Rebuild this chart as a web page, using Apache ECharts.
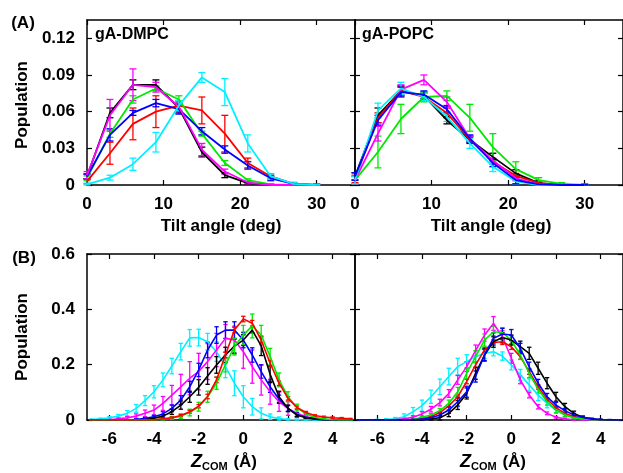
<!DOCTYPE html>
<html>
<head>
<meta charset="utf-8">
<script src="https://cdn.jsdelivr.net/npm/echarts@6/dist/echarts.min.js"></script>
<style>
html,body{margin:0;padding:0;background:#fff;}
#c{width:623px;height:473px;}
</style>
</head>
<body>
<div id="c"></div>
<script>
// ---------- DATA ----------
const tiltAngles = [0, 3, 6, 9, 12, 15, 18, 21, 24, 27, 30];
const tiltTicks = [0, 10, 20, 30];
const tiltPopTicks = [0, 0.03, 0.06, 0.09, 0.12];

// gA-DMPC tilt populations
const dmpcTiltBlack   = [0.007, 0.059, 0.082, 0.082, 0.063, 0.027, 0.008, 0.0015, 0, 0, 0];
const dmpcTiltRed     = [0.003, 0.026, 0.050, 0.060, 0.065, 0.061, 0.042, 0.018, 0.007, 0.001, 0];
const dmpcTiltGreen   = [0.0055, 0.042, 0.070, 0.079, 0.070, 0.042, 0.018, 0.004, 0.0005, 0, 0];
const dmpcTiltBlue    = [0.007, 0.041, 0.059, 0.067, 0.062, 0.044, 0.029, 0.016, 0.0055, 0.001, 0];
const dmpcTiltMagenta = [0.008, 0.057, 0.082, 0.080, 0.064, 0.029, 0.011, 0.002, 0, 0, 0];
const dmpcTiltCyan    = [0.0005, 0.006, 0.017, 0.035, 0.065, 0.088, 0.076, 0.034, 0.007, 0.001, 0];
const dmpcTiltErrBlack   = [0.002, 0.004, 0.004, 0.004, 0.004, 0.004, 0.002, 0.001, 0.0005, 0.0005, 0.0005];
const dmpcTiltErrRed     = [0.002, 0.009, 0.013, 0.013, 0.004, 0.011, 0.015, 0.004, 0.002, 0.001, 0.0005];
const dmpcTiltErrGreen   = [0.002, 0.003, 0.003, 0.002, 0.003, 0.002, 0.002, 0.001, 0.0005, 0.0005, 0.0005];
const dmpcTiltErrBlue    = [0.002, 0.005, 0.002, 0.003, 0.004, 0.003, 0.003, 0.003, 0.002, 0.001, 0.0005];
const dmpcTiltErrMagenta = [0.003, 0.013, 0.013, 0.004, 0.004, 0.005, 0.002, 0.001, 0.0005, 0.0005, 0.0005];
const dmpcTiltErrCyan    = [0.001, 0.002, 0.005, 0.008, 0.004, 0.004, 0.011, 0.007, 0.002, 0.001, 0.0005];

// gA-POPC tilt populations
const popcTiltBlack   = [0.007, 0.057, 0.077, 0.073, 0.053, 0.037, 0.023, 0.0095, 0.0015, 0, 0];
const popcTiltRed     = [0.005, 0.055, 0.077, 0.072, 0.059, 0.037, 0.019, 0.0075, 0.0015, 0, 0];
const popcTiltGreen   = [0.004, 0.027, 0.054, 0.072, 0.073, 0.055, 0.031, 0.013, 0.004, 0.001, 0];
const popcTiltBlue    = [0.007, 0.053, 0.076, 0.074, 0.062, 0.038, 0.018, 0.004, 0.0005, 0, 0];
const popcTiltMagenta = [0.004, 0.042, 0.078, 0.086, 0.068, 0.038, 0.020, 0.0055, 0.0005, 0, 0];
const popcTiltCyan    = [0.004, 0.061, 0.079, 0.072, 0.056, 0.034, 0.015, 0.003, 0, 0, 0];
const popcTiltErrBlack   = [0.003, 0.006, 0.004, 0.003, 0.003, 0.003, 0.003, 0.003, 0.002, 0.0005, 0.0005];
const popcTiltErrRed     = [0.003, 0.004, 0.004, 0.003, 0.004, 0.002, 0.002, 0.002, 0.001, 0.0005, 0.0005];
const popcTiltErrGreen   = [0.003, 0.013, 0.012, 0.004, 0.004, 0.011, 0.011, 0.006, 0.002, 0.001, 0.0005];
const popcTiltErrBlue    = [0.003, 0.004, 0.004, 0.003, 0.003, 0.003, 0.003, 0.003, 0.001, 0.0005, 0.0005];
const popcTiltErrMagenta = [0.003, 0.006, 0.004, 0.004, 0.004, 0.002, 0.002, 0.002, 0.001, 0.0005, 0.0005];
const popcTiltErrCyan    = [0.003, 0.006, 0.005, 0.003, 0.004, 0.004, 0.004, 0.002, 0.001, 0.0005, 0.0005];

// Z_COM positions (Å)
const zcom = [-6.8, -6.4, -6.0, -5.6, -5.2, -4.8, -4.4, -4.0, -3.6, -3.2, -2.8, -2.4, -2.0, -1.6, -1.2,
              -0.8, -0.4, 0.0, 0.4, 0.8, 1.2, 1.6, 2.0, 2.4, 2.8, 3.2, 3.6, 4.0, 4.4, 4.8];
const zTicks = [-6, -4, -2, 0, 2, 4];
const zPopTicks = [0, 0.2, 0.4, 0.6];

// gA-DMPC Z_COM populations
const dmpcZBlack   = [0,0,0,0,0,0,0.002,0.006,0.014,0.030,0.054,0.084,0.118,0.159,0.199,0.235,0.267,0.289,0.325,0.268,0.165,0.084,0.042,0.018,0.008,0.004,0.001,0,0,0];
const dmpcZRed     = [0,0,0,0,0,0,0,0.001,0.004,0.008,0.016,0.030,0.050,0.085,0.145,0.235,0.325,0.365,0.350,0.289,0.205,0.133,0.078,0.045,0.027,0.016,0.011,0.008,0.006,0.004];
const dmpcZGreen   = [0,0,0,0,0,0,0,0.001,0.003,0.007,0.014,0.027,0.048,0.084,0.133,0.199,0.265,0.307,0.340,0.307,0.229,0.145,0.084,0.045,0.022,0.010,0.004,0.001,0,0];
const dmpcZBlue    = [0,0,0,0,0,0.002,0.006,0.012,0.022,0.042,0.072,0.120,0.181,0.253,0.307,0.325,0.325,0.289,0.235,0.175,0.120,0.075,0.042,0.020,0.010,0.004,0.001,0,0,0];
const dmpcZMagenta = [0,0,0.001,0.004,0.008,0.014,0.024,0.036,0.060,0.090,0.120,0.151,0.175,0.211,0.253,0.295,0.289,0.247,0.193,0.145,0.102,0.066,0.042,0.024,0.012,0.006,0.002,0,0,0];
const dmpcZCyan    = [0.002,0.004,0.008,0.014,0.024,0.042,0.070,0.102,0.145,0.195,0.247,0.297,0.298,0.283,0.247,0.193,0.133,0.084,0.048,0.024,0.012,0.005,0.002,0.001,0,0,0,0,0,0];
const dmpcZErrBlack   = [0.001,0.001,0.001,0.001,0.001,0.001,0.002,0.004,0.006,0.010,0.015,0.020,0.028,0.030,0.030,0.028,0.025,0.020,0.010,0.035,0.030,0.020,0.012,0.006,0.003,0.002,0.001,0.001,0.001,0.001];
const dmpcZErrRed     = [0.001,0.001,0.001,0.001,0.001,0.001,0.001,0.001,0.002,0.003,0.004,0.005,0.006,0.008,0.010,0.010,0.010,0.010,0.010,0.010,0.010,0.008,0.006,0.005,0.004,0.003,0.003,0.003,0.003,0.002];
const dmpcZErrGreen   = [0.001,0.001,0.001,0.001,0.001,0.001,0.001,0.002,0.003,0.005,0.008,0.012,0.016,0.020,0.022,0.025,0.030,0.035,0.043,0.035,0.030,0.025,0.018,0.012,0.006,0.004,0.002,0.001,0.001,0.001];
const dmpcZErrBlue    = [0.001,0.001,0.001,0.001,0.001,0.002,0.003,0.005,0.008,0.012,0.016,0.020,0.024,0.028,0.030,0.030,0.030,0.028,0.026,0.024,0.020,0.015,0.010,0.006,0.004,0.002,0.001,0.001,0.001,0.001];
const dmpcZErrMagenta = [0.001,0.001,0.002,0.003,0.005,0.008,0.012,0.018,0.025,0.035,0.045,0.060,0.066,0.065,0.060,0.050,0.050,0.060,0.060,0.055,0.045,0.035,0.025,0.015,0.008,0.004,0.002,0.001,0.001,0.001];
const dmpcZErrCyan    = [0.002,0.003,0.004,0.006,0.010,0.014,0.018,0.022,0.025,0.028,0.030,0.030,0.030,0.030,0.035,0.040,0.045,0.040,0.030,0.020,0.010,0.006,0.003,0.002,0.001,0.001,0.001,0.001,0.001,0.001];

// gA-POPC Z_COM populations
const popcZBlack   = [0,0,0,0,0,0,0,0.001,0.004,0.008,0.024,0.054,0.096,0.169,0.235,0.283,0.298,0.289,0.265,0.241,0.187,0.133,0.084,0.048,0.024,0.010,0.004,0.001,0,0];
const popcZRed     = [0,0,0,0,0,0,0.001,0.005,0.012,0.027,0.051,0.084,0.139,0.199,0.253,0.280,0.283,0.265,0.229,0.175,0.120,0.075,0.045,0.024,0.012,0.006,0.002,0.001,0,0];
const popcZGreen   = [0,0,0,0,0,0,0.002,0.010,0.018,0.034,0.060,0.102,0.169,0.229,0.289,0.319,0.316,0.289,0.235,0.169,0.111,0.066,0.036,0.018,0.008,0.004,0.001,0,0,0];
const popcZBlue    = [0,0,0,0,0,0,0.001,0.003,0.008,0.018,0.036,0.066,0.102,0.157,0.235,0.295,0.311,0.307,0.259,0.193,0.133,0.084,0.054,0.034,0.018,0.010,0.004,0.002,0.001,0];
const popcZMagenta = [0,0,0,0,0.001,0.004,0.010,0.022,0.039,0.063,0.096,0.145,0.193,0.251,0.307,0.349,0.301,0.223,0.145,0.090,0.048,0.024,0.010,0.004,0.001,0,0,0,0,0];
const popcZCyan    = [0,0,0.001,0.002,0.004,0.012,0.030,0.052,0.084,0.120,0.157,0.193,0.211,0.229,0.241,0.247,0.231,0.199,0.163,0.127,0.090,0.060,0.036,0.020,0.010,0.004,0.001,0,0,0];
const popcZErrBlack   = [0.001,0.001,0.001,0.001,0.001,0.001,0.001,0.002,0.004,0.008,0.012,0.016,0.020,0.022,0.022,0.020,0.018,0.018,0.020,0.022,0.022,0.020,0.016,0.012,0.008,0.004,0.002,0.001,0.001,0.001];
const popcZErrRed     = [0.001,0.001,0.001,0.001,0.001,0.001,0.001,0.002,0.003,0.004,0.005,0.006,0.008,0.010,0.010,0.010,0.010,0.010,0.010,0.010,0.008,0.006,0.005,0.004,0.003,0.002,0.001,0.001,0.001,0.001];
const popcZErrGreen   = [0.001,0.001,0.001,0.001,0.001,0.001,0.002,0.003,0.005,0.008,0.012,0.016,0.020,0.022,0.022,0.020,0.018,0.016,0.016,0.016,0.014,0.012,0.010,0.006,0.004,0.002,0.001,0.001,0.001,0.001];
const popcZErrBlue    = [0.001,0.001,0.001,0.001,0.001,0.001,0.002,0.003,0.005,0.008,0.012,0.016,0.020,0.020,0.020,0.020,0.020,0.020,0.018,0.016,0.014,0.012,0.010,0.008,0.006,0.004,0.002,0.001,0.001,0.001];
const popcZErrMagenta = [0.001,0.001,0.001,0.001,0.002,0.003,0.005,0.008,0.010,0.012,0.014,0.016,0.018,0.020,0.022,0.025,0.022,0.018,0.014,0.010,0.008,0.005,0.003,0.002,0.001,0.001,0.001,0.001,0.001,0.001];
const popcZErrCyan    = [0.001,0.001,0.002,0.003,0.005,0.010,0.015,0.020,0.024,0.028,0.030,0.030,0.025,0.020,0.018,0.015,0.015,0.018,0.020,0.022,0.020,0.016,0.012,0.008,0.005,0.003,0.002,0.001,0.001,0.001];

// ---------- CHART ----------
const COL = {black:'#000000', red:'#ff0000', green:'#00e800', blue:'#0000ff', magenta:'#ff00ff', cyan:'#00f0ff'};
const FONT = '"Liberation Sans", Arial, Helvetica, sans-serif';

const grids = [
  {left: 87,  top: 20,  width: 268, height: 165},
  {left: 355, top: 20,  width: 268, height: 165},
  {left: 87,  top: 254, width: 268, height: 166},
  {left: 355, top: 254, width: 268, height: 166}
];

const xAxis = [], yAxis = [];
function addAxes(gi, xr, yr, xTicks, yTicks, showY, yFmt) {
  const line = {show: true, onZero: false, lineStyle: {color: '#000', width: 1.5}};
  xAxis.push({type: 'value', gridIndex: gi, min: xr[0], max: xr[1], position: 'bottom',
    axisLine: line, splitLine: {show: false},
    axisTick: {show: true, inside: true, length: 5, customValues: xTicks, lineStyle: {color: '#000', width: 1.2}},
    axisLabel: {show: true, customValues: xTicks, margin: 11, color: '#000', fontSize: 17, fontWeight: 'bold', fontFamily: FONT}});
  xAxis.push({type: 'value', gridIndex: gi, min: xr[0], max: xr[1], position: 'top',
    axisLine: line, splitLine: {show: false},
    axisTick: {show: true, inside: true, length: 5, customValues: xTicks, lineStyle: {color: '#000', width: 1.2}},
    axisLabel: {show: false}});
  yAxis.push({type: 'value', gridIndex: gi, min: yr[0], max: yr[1], position: 'left',
    axisLine: line, splitLine: {show: false},
    axisTick: {show: true, inside: true, length: 5, customValues: yTicks, lineStyle: {color: '#000', width: 1.2}},
    axisLabel: {show: showY, customValues: yTicks, margin: 12, color: '#000', fontSize: 17, fontWeight: 'bold', fontFamily: FONT, formatter: yFmt}});
  yAxis.push({type: 'value', gridIndex: gi, min: yr[0], max: yr[1], position: 'right',
    axisLine: line, splitLine: {show: false},
    axisTick: {show: true, inside: true, length: 5, customValues: yTicks, lineStyle: {color: '#000', width: 1.2}},
    axisLabel: {show: false}});
}
const fmtTilt = v => v === 0 ? '0' : v.toFixed(2);
const fmtZ = v => v === 0 ? '0' : v.toFixed(1);
addAxes(0, [0, 35], [0, 0.135], tiltTicks, tiltPopTicks, true, fmtTilt);
addAxes(1, [0, 35], [0, 0.135], tiltTicks, tiltPopTicks, false, fmtTilt);
addAxes(2, [-7, 5], [0, 0.6], zTicks, zPopTicks, true, fmtZ);
addAxes(3, [-7, 5], [0, 0.6], zTicks, zPopTicks, false, fmtZ);

const series = [];
function addSet(gi, xs, ys, errs, color, capHalf, lw) {
  const pts = xs.map((x, i) => [x, ys[i]]);
  const epts = xs.map((x, i) => [x, ys[i], errs[i]]);
  series.push({type: 'custom', xAxisIndex: 2 * gi, yAxisIndex: 2 * gi, data: epts, silent: true,
    renderItem: function (params, api) {
      const x = api.value(0), y = api.value(1), e = api.value(2);
      const lo = api.coord([x, Math.max(0, y - e)]);
      const hi = api.coord([x, y + e]);
      const st = {stroke: color, lineWidth: 1.3};
      return {type: 'group', children: [
        {type: 'line', shape: {x1: lo[0], y1: lo[1], x2: hi[0], y2: hi[1]}, style: st},
        {type: 'line', shape: {x1: lo[0] - capHalf, y1: lo[1], x2: lo[0] + capHalf, y2: lo[1]}, style: st},
        {type: 'line', shape: {x1: hi[0] - capHalf, y1: hi[1], x2: hi[0] + capHalf, y2: hi[1]}, style: st}
      ]};
    }, z: 2});
  series.push({type: 'line', xAxisIndex: 2 * gi, yAxisIndex: 2 * gi, data: pts, showSymbol: false, symbol: 'none',
    lineStyle: {color: color, width: lw}, itemStyle: {color: color}, silent: true, animation: false, z: 3});
}
// Top-left: gA-DMPC tilt
addSet(0, tiltAngles, dmpcTiltBlack, dmpcTiltErrBlack, COL.black, 3.5, 1.8);
addSet(0, tiltAngles, dmpcTiltRed, dmpcTiltErrRed, COL.red, 3.5, 1.8);
addSet(0, tiltAngles, dmpcTiltGreen, dmpcTiltErrGreen, COL.green, 3.5, 1.8);
addSet(0, tiltAngles, dmpcTiltBlue, dmpcTiltErrBlue, COL.blue, 3.5, 1.8);
addSet(0, tiltAngles, dmpcTiltMagenta, dmpcTiltErrMagenta, COL.magenta, 3.5, 1.8);
addSet(0, tiltAngles, dmpcTiltCyan, dmpcTiltErrCyan, COL.cyan, 3.5, 1.8);
// Top-right: gA-POPC tilt
addSet(1, tiltAngles, popcTiltBlack, popcTiltErrBlack, COL.black, 3.5, 1.8);
addSet(1, tiltAngles, popcTiltRed, popcTiltErrRed, COL.red, 3.5, 1.8);
addSet(1, tiltAngles, popcTiltGreen, popcTiltErrGreen, COL.green, 3.5, 1.8);
addSet(1, tiltAngles, popcTiltMagenta, popcTiltErrMagenta, COL.magenta, 3.5, 1.8);
addSet(1, tiltAngles, popcTiltCyan, popcTiltErrCyan, COL.cyan, 3.5, 1.8);
addSet(1, tiltAngles, popcTiltBlue, popcTiltErrBlue, COL.blue, 3.5, 1.8);
// Bottom-left: gA-DMPC Z_COM
addSet(2, zcom, dmpcZCyan, dmpcZErrCyan, COL.cyan, 2.2, 1.6);
addSet(2, zcom, dmpcZMagenta, dmpcZErrMagenta, COL.magenta, 2.2, 1.6);
addSet(2, zcom, dmpcZBlue, dmpcZErrBlue, COL.blue, 2.2, 1.6);
addSet(2, zcom, dmpcZBlack, dmpcZErrBlack, COL.black, 2.2, 1.6);
addSet(2, zcom, dmpcZGreen, dmpcZErrGreen, COL.green, 2.2, 1.6);
addSet(2, zcom, dmpcZRed, dmpcZErrRed, COL.red, 2.2, 1.6);
// Bottom-right: gA-POPC Z_COM
addSet(3, zcom, popcZCyan, popcZErrCyan, COL.cyan, 2.2, 1.6);
addSet(3, zcom, popcZMagenta, popcZErrMagenta, COL.magenta, 2.2, 1.6);
addSet(3, zcom, popcZRed, popcZErrRed, COL.red, 2.2, 1.6);
addSet(3, zcom, popcZGreen, popcZErrGreen, COL.green, 2.2, 1.6);
addSet(3, zcom, popcZBlack, popcZErrBlack, COL.black, 2.2, 1.6);
addSet(3, zcom, popcZBlue, popcZErrBlue, COL.blue, 2.2, 1.6);

const txt = (x, y, text, opts) => Object.assign({type: 'text', x: x, y: y,
  style: Object.assign({text: text, fill: '#000', font: 'bold 17px ' + FONT, textAlign: 'center', textVerticalAlign: 'middle'}, opts || {})});

const zRich = {
  z: {font: 'italic bold 18px ' + FONT, fill: '#000'},
  s: {font: 'bold 11px ' + FONT, fill: '#000', padding: [9, 1, 0, 0]},
  n: {font: 'bold 17px ' + FONT, fill: '#000'}
};

const graphic = [
  txt(23, 23, '(A)'),
  txt(24, 258, '(B)'),
  Object.assign(txt(22, 105, 'Population'), {rotation: Math.PI / 2}),
  Object.assign(txt(22, 337, 'Population'), {rotation: Math.PI / 2}),
  txt(221, 226, 'Tilt angle (deg)'),
  txt(491, 226, 'Tilt angle (deg)'),
  txt(95, 35, 'gA-DMPC', {textAlign: 'left', font: 'bold 16px ' + FONT}),
  txt(362, 35, 'gA-POPC', {textAlign: 'left', font: 'bold 16px ' + FONT}),
  {type: 'text', x: 224, y: 462, style: {text: '{z|Z}{s|COM}{n| (Å)}', rich: zRich, textAlign: 'center', textVerticalAlign: 'middle'}},
  {type: 'text', x: 493, y: 462, style: {text: '{z|Z}{s|COM}{n| (Å)}', rich: zRich, textAlign: 'center', textVerticalAlign: 'middle'}}
];

const chart = echarts.init(document.getElementById('c'), null, {renderer: 'canvas'});
chart.setOption({
  animation: false,
  backgroundColor: '#fff',
  grid: grids,
  xAxis: xAxis,
  yAxis: yAxis,
  series: series,
  graphic: graphic
});
</script>
</body>
</html>
